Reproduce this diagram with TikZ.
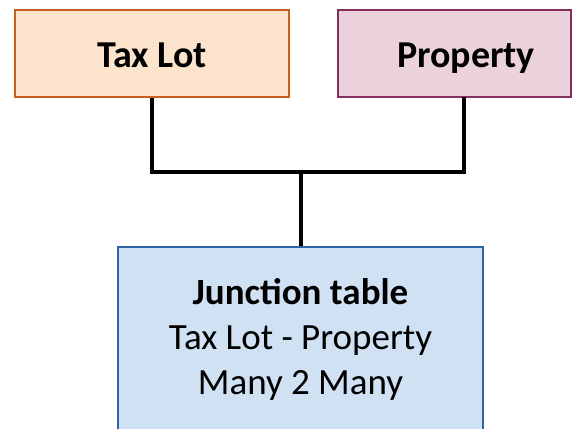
\documentclass[tikz,border=0pt]{standalone}
\usepackage{fontspec}
\setmainfont{Carlito}
\definecolor{lotfill}{HTML}{FCE4CC}
\definecolor{lotline}{HTML}{C4621A}
\definecolor{propfill}{HTML}{EAD1DC}
\definecolor{propline}{HTML}{84305E}
\definecolor{junfill}{HTML}{CFE1F2}
\definecolor{junline}{HTML}{2F64A3}
\tikzset{
  entity/.style={draw, line width=2pt, rectangle, inner sep=0pt,
    text height=30pt, text depth=2pt,
    font=\fontsize{38}{44}\selectfont\bfseries},
  junctionbox/.style={draw=junline, fill=junfill, line width=2pt, rectangle,
    inner sep=0pt, align=center, font=\fontsize{37}{45}\selectfont},
  link/.style={line width=3.5pt, black}
}
\begin{document}
\begin{tikzpicture}[x=1pt, y=-1pt]
  \useasboundingbox (0,0) rectangle (572,428);
  \clip (0,0) rectangle (572,428);
  % the two entity tables
  \node[entity, draw=lotline, fill=lotfill, minimum width=274pt, minimum height=87pt]
    (taxlot) at (152,53.5) {Tax Lot};
  \node[entity, draw=propline, fill=propfill, minimum width=233pt, minimum height=87pt]
    (property) at (454.5,53.5) {\hspace*{23pt}Property};
  % the junction table
  \node[junctionbox, minimum width=365pt, minimum height=184pt]
    (junction) at (300.5,339) {\textbf{Junction table}\\Tax Lot - Property\\Many 2 Many};
  % connectors
  \coordinate (propfoot) at (464,97);
  \coordinate (fork) at (301,172);
  \draw[link] (taxlot.south) |- (fork) -| (propfoot);
  \draw[link] (fork) -- (fork |- junction.north);
\end{tikzpicture}
\end{document}
